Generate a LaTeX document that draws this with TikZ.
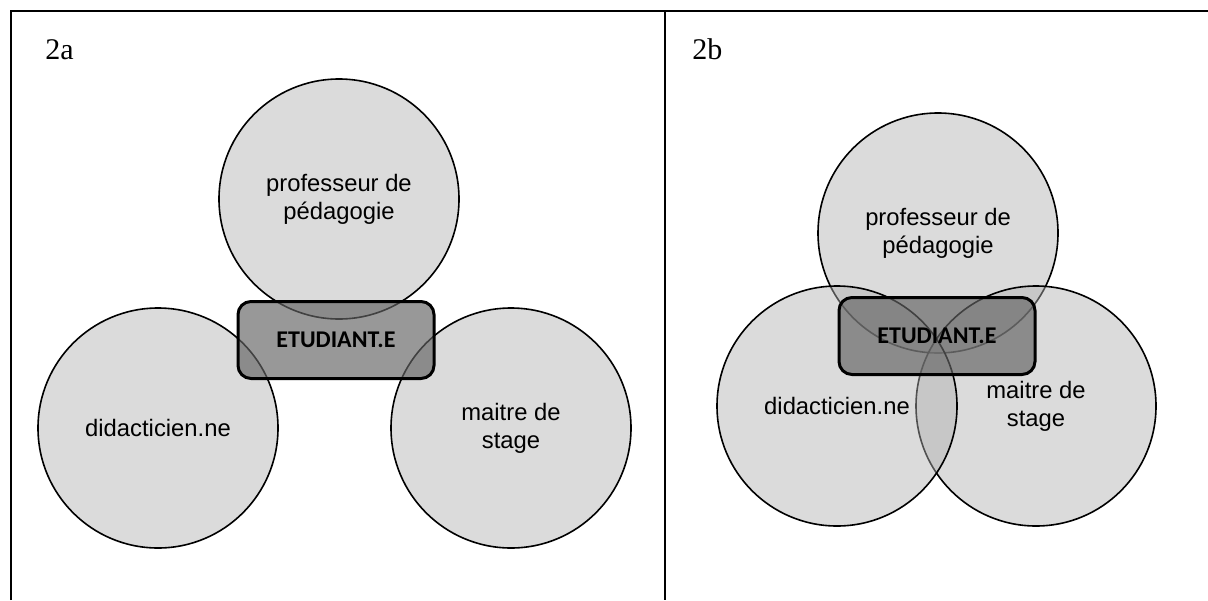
\documentclass[tikz,border=0pt]{standalone}
\usepackage{fontspec}
\setmainfont{Liberation Serif}
\newfontfamily\arialfont{Liberation Sans}
\newfontfamily\calibrifont{Carlito}
\definecolor{cerclegris}{gray}{0.69}
\definecolor{etugris}{gray}{0.39}
\tikzset{
  cercle/.style={circle, draw=black, line width=0.8pt, fill=cerclegris, fill opacity=0.46, text opacity=1,
    minimum size=120pt, inner sep=0pt, align=center, font=\arialfont\fontsize{11.9}{14}\selectfont},
  etudiant/.style={rectangle, rounded corners=6.5pt, draw=black, line width=1.5pt, fill=etugris,
    fill opacity=0.66, text opacity=1, minimum width=98pt, minimum height=38.5pt, inner sep=0pt,
    font=\calibrifont\bfseries\fontsize{12}{14}\selectfont},
  panneau/.style={anchor=base west, inner sep=0pt, font=\fontsize{15}{18}\selectfont}
}

\begin{document}
\begin{tikzpicture}[x=0.5pt, y=-0.5pt]
\useasboundingbox (0,0) rectangle (1208,600);
\coordinate (hg) at (11,11);
\coordinate (bg) at (11,600);
\coordinate (hd) at (1208,11);
\coordinate (hm) at (665,11);
\coordinate (bm) at (665,600);
\draw[line width=1pt] (bg) -- (hg) -- (hd);
\draw[line width=1pt] (hm) -- (bm);

\node[panneau] (lab2a) at (45,59) {2a};
\node[cercle] (prof2a) at (339,199) {professeur de\\pédagogie};
\node[cercle] (ms2a) at (511,428) {maitre de\\stage};
\node[cercle] (did2a) at (158,428) {didacticien.ne};
\node[etudiant] (etu2a) at (336,340) {ETUDIANT.E};

\node[panneau] (lab2b) at (692,59) {2b};
\node[cercle] (prof2b) at (938,233) {professeur de\\pédagogie};
\node[cercle] (ms2b) at (1036,406) {maitre de\\stage};
\node[cercle] (did2b) at (837,406) {didacticien.ne};
\node[etudiant] (etu2b) at (937,336) {ETUDIANT.E};
\end{tikzpicture}
\end{document}
